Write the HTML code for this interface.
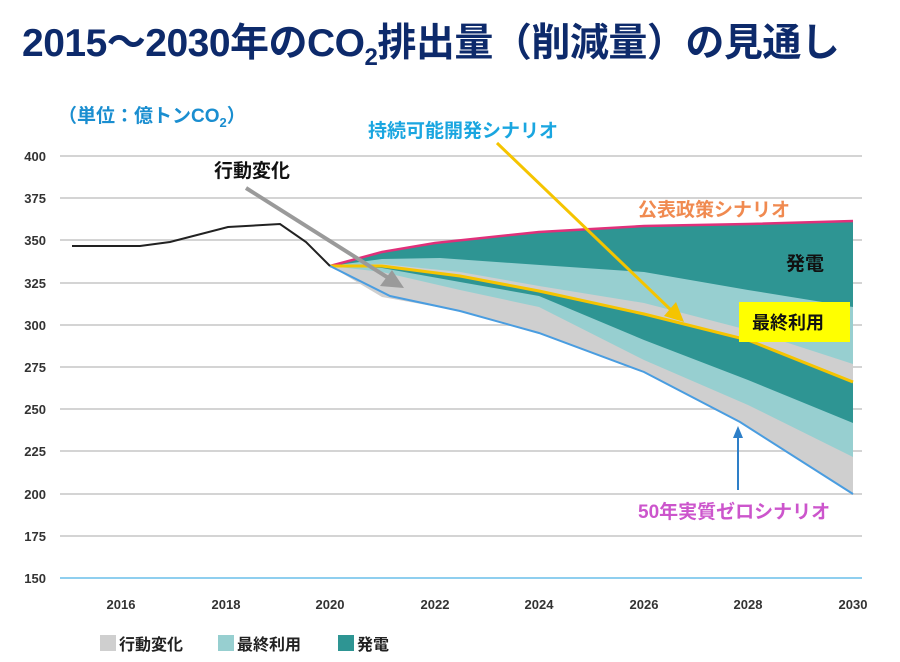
<!DOCTYPE html>
<html><head><meta charset="utf-8"><style>
body{margin:0;background:#fff;}
svg{display:block;font-family:"Liberation Sans","Noto Sans CJK JP",sans-serif;}
</style></head><body>
<svg width="900" height="662" viewBox="0 0 900 662">
<text x="22" y="56" font-size="39" font-weight="bold" fill="#0d2a6b" letter-spacing="-0.5">2015～2030年のCO<tspan font-size="24" dy="9">2</tspan><tspan dy="-9">排出量（削減量）の見通し</tspan></text>
<text x="58" y="122" font-size="19" font-weight="bold" fill="#1a8ed0">（単位：億トンCO<tspan font-size="13" dy="5">2</tspan><tspan dy="-5">）</tspan></text>
<g stroke="#d4d4d4" stroke-width="2">
<line x1="60" y1="156" x2="862" y2="156"/><line x1="60" y1="198" x2="862" y2="198"/>
<line x1="60" y1="240" x2="862" y2="240"/><line x1="60" y1="283" x2="862" y2="283"/>
<line x1="60" y1="325" x2="862" y2="325"/><line x1="60" y1="367" x2="862" y2="367"/>
<line x1="60" y1="409" x2="862" y2="409"/><line x1="60" y1="451" x2="862" y2="451"/>
<line x1="60" y1="494" x2="862" y2="494"/><line x1="60" y1="536" x2="862" y2="536"/>
</g>
<line x1="60" y1="578" x2="862" y2="578" stroke="#8fcfef" stroke-width="2"/>
<g font-size="13" font-weight="bold" fill="#333" text-anchor="end">
<text x="46" y="161">400</text><text x="46" y="203">375</text><text x="46" y="245">350</text>
<text x="46" y="288">325</text><text x="46" y="330">300</text><text x="46" y="372">275</text>
<text x="46" y="414">250</text><text x="46" y="456">225</text><text x="46" y="499">200</text>
<text x="46" y="541">175</text><text x="46" y="583">150</text>
</g>
<g font-size="13" font-weight="bold" fill="#333" text-anchor="middle">
<text x="121" y="609">2016</text><text x="226" y="609">2018</text><text x="330" y="609">2020</text>
<text x="435" y="609">2022</text><text x="539" y="609">2024</text><text x="644" y="609">2026</text>
<text x="748" y="609">2028</text><text x="853" y="609">2030</text>
</g>
<path d="M330,266 L382,297 L460,311 L539,333 L644,372 L740,422 L853,494 L853,221 L748,224 L644,226 L539,232 L435,243 L382,252 Z" fill="#cfcfcf"/>
<path d="M330,266 L382,272 L460,290 L539,307 L644,360 L748,405 L853,457 L853,221 L748,224 L644,226 L539,232 L435,243 L382,252 Z" fill="#97cfd0"/>
<path d="M330,266 L382,268 L460,282 L539,296 L644,340 L748,380 L853,423 L853,221 L748,224 L644,226 L539,232 L435,243 L382,252 Z" fill="#2e9593"/>
<path d="M330,266 L382,266 L460,276 L539,291 L644,314 L748,340 L853,382 L853,221 L748,224 L644,226 L539,232 L435,243 L382,252 Z" fill="#cfcfcf"/>
<path d="M330,266 L382,264 L460,272 L539,286 L644,303 L748,330 L853,364 L853,221 L748,224 L644,226 L539,232 L435,243 L382,252 Z" fill="#97cfd0"/>
<path d="M330,266 L382,259 L440,258 L540,265 L644,272 L748,290 L853,307 L853,221 L748,224 L644,226 L539,232 L435,243 L382,252 Z" fill="#2e9593"/>
<polyline points="330,266 382,252 435,243 539,232 644,226 748,224 853,221" fill="none" stroke="#e0307a" stroke-width="2.5"/>
<polyline points="330,266 382,266 460,276 539,291 644,314 748,340 853,382" fill="none" stroke="#f5c400" stroke-width="3"/>
<polyline points="330,266 390,296 460,311 539,333 644,372 740,422 853,494" fill="none" stroke="#4a9de0" stroke-width="2"/>
<polyline points="72,246 140,246 170,242 228,227 280,224 306,242 330,266" fill="none" stroke="#222" stroke-width="2"/>
<line x1="246" y1="188" x2="390" y2="279" stroke="#9a9a9a" stroke-width="4"/>
<polygon points="404,288 380,286 392,270" fill="#9a9a9a"/>
<line x1="497" y1="143" x2="672" y2="311" stroke="#f5c400" stroke-width="3"/>
<polygon points="684,322 664,316 676,302" fill="#f5c400"/>
<line x1="738" y1="490" x2="738" y2="436" stroke="#2e7fc8" stroke-width="2"/>
<polygon points="738,426 733,438 743,438" fill="#2e7fc8"/>
<text x="214" y="177" font-size="19" font-weight="bold" fill="#111">行動変化</text>
<text x="368" y="137" font-size="19" font-weight="bold" fill="#1aa6e0">持続可能開発シナリオ</text>
<text x="638" y="216" font-size="19" font-weight="bold" fill="#f08a50">公表政策シナリオ</text>
<text x="786" y="270" font-size="19" font-weight="bold" fill="#111">発電</text>
<rect x="739" y="302" width="111" height="40" fill="#ffff00"/>
<text x="752" y="329" font-size="18" font-weight="bold" fill="#111">最終利用</text>
<text x="638" y="518" font-size="19" font-weight="bold" fill="#cc55cc">50年実質ゼロシナリオ</text>
<rect x="100" y="635" width="16" height="16" fill="#cfcfcf"/>
<text x="119" y="650" font-size="16" font-weight="bold" fill="#222">行動変化</text>
<rect x="218" y="635" width="16" height="16" fill="#97cfd0"/>
<text x="237" y="650" font-size="16" font-weight="bold" fill="#222">最終利用</text>
<rect x="338" y="635" width="16" height="16" fill="#2e9593"/>
<text x="357" y="650" font-size="16" font-weight="bold" fill="#222">発電</text>
</svg>
</body></html>
